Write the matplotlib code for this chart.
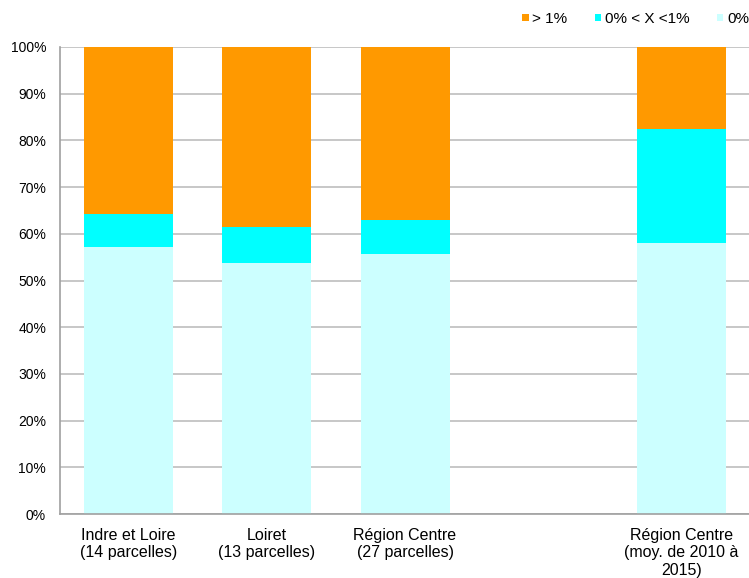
import matplotlib
matplotlib.use('Agg')
from matplotlib import pyplot as plt
from matplotlib.ticker import PercentFormatter
import numpy as np

plt.rcParams['font.family'] = ['Liberation Sans', 'DejaVu Sans']

# one empty slot between the 2015 campaign and the multi-year average
categories = ['Indre et Loire\n(14 parcelles)', 'Loiret\n(13 parcelles)',
              'Région Centre\n(27 parcelles)', '',
              'Région Centre\n(moy. de 2010 à\n2015)']
zero = [57.1, 53.8, 55.6, 0, 58.0]
low = [7.1, 7.7, 7.4, 0, 24.4]
high = [35.7, 38.5, 37.0, 0, 17.6]
series_labels = ['> 1%', '0% < X <1%', '0%']
colors = ['#FF9900', '#00FFFF', '#CCFFFF']

fig = plt.figure(figsize=(7.49, 5.78), dpi=100)
ax = fig.add_axes([60 / 749, 1 - 514 / 578, 1 - 60 / 749, (514 - 47) / 578])

x = np.arange(len(categories))
zero = np.array(zero)
low = np.array(low)
high = np.array(high)
w = 0.643
b0 = ax.bar(x, zero, w, color=colors[2], zorder=2)
b1 = ax.bar(x, low, w, bottom=zero, color=colors[1], zorder=2)
b2 = ax.bar(x, high, w, bottom=zero + low, color=colors[0], zorder=2)

ax.set_xlim(-0.495, 4.487)
ax.set_ylim(0, 100)
ax.set_yticks(np.arange(0, 101, 10))
ax.yaxis.set_major_formatter(PercentFormatter(decimals=0))
ax.set_xticks(x)
ax.set_xticklabels(categories, fontsize=11.5, linespacing=1.2)
ax.tick_params(axis='y', labelsize=10, length=0, pad=10)
ax.tick_params(axis='x', length=0, pad=10)
ax.grid(axis='y', color='#BEBEBE', linewidth=1.2, zorder=0)
for s in ['top', 'right']:
    ax.spines[s].set_visible(False)
for s in ['left', 'bottom']:
    ax.spines[s].set_color('#A0A0A0')
    ax.spines[s].set_linewidth(1.2)

fig.legend([b2, b1, b0], series_labels, loc='upper right', ncol=3, frameon=False,
           bbox_to_anchor=(1.0, 1 - 12 / 578), fontsize=11, handlelength=0.4,
           handleheight=0.4, handletextpad=0.25, columnspacing=1.8,
           borderpad=0, borderaxespad=0)

fig.savefig('out.png', dpi=100)
